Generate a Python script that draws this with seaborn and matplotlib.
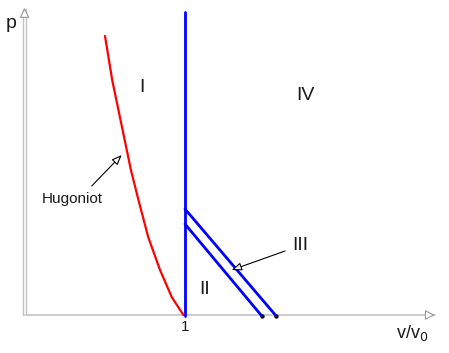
import matplotlib
matplotlib.use("Agg")
import matplotlib.pyplot as plt
import seaborn as sns
import numpy as np
import pandas as pd

sns.set_theme(style="white")
plt.rcParams['font.family'] = ['Liberation Sans', 'DejaVu Sans']

# Data (v/v0, p)
hug_x = [0.50, 0.545, 0.610, 0.662, 0.714, 0.770, 0.844, 0.917, 0.990]
hug_p = [2.80, 2.36, 1.86, 1.46, 1.13, 0.79, 0.46, 0.19, 0.01]
vert_x = [1.0, 1.0]
vert_p = [3.04, 0.0]
upper_x = [1.0, 1.57]
upper_p = [1.07, 0.0]
lower_x = [1.0, 1.48]
lower_p = [0.92, 0.0]
region_labels = ["I", "II", "III", "IV"]

fig = plt.figure(figsize=(4.49, 3.53), dpi=100)
ax = fig.add_axes([0, 0, 1, 1])
ax.set_xlim(-25/160, (449-25)/160)
ax.set_ylim((316-353)/100, 316/100)
ax.axis('off')

def X(px):
    return (px - 25) / 160

def P(py):
    return (316 - py) / 100

gray = '#c4c4c4'
# axes lines
ax.plot([-0.011, -0.011], [0.01, 3.07], color=gray, lw=1.0)
ax.plot([0.006, 0.006], [0.03, 3.07], color=gray, lw=1.0)
ax.plot([0.0, 2.56], [0.01, 0.01], color=gray, lw=1.2)
ax.annotate("", xy=(-0.0025, 3.11), xytext=(-0.0025, 3.0),
            arrowprops=dict(arrowstyle='-|>,head_length=0.5,head_width=0.25', fc='white', ec='#999999', lw=0.8))
ax.annotate("", xy=(2.58, 0.01), xytext=(2.50, 0.01),
            arrowprops=dict(arrowstyle='-|>,head_length=0.5,head_width=0.25', fc='white', ec='#999999', lw=0.8))

df_h = pd.DataFrame({"x": hug_x, "p": hug_p})
sns.lineplot(data=df_h, x="x", y="p", ax=ax, color='#ff0000', lw=1.6, sort=False, estimator=None,
             solid_joinstyle='round')
for xs, ps in [(vert_x, vert_p), (upper_x, upper_p), (lower_x, lower_p)]:
    d = pd.DataFrame({"x": xs, "p": ps})
    sns.lineplot(data=d, x="x", y="p", ax=ax, color='#0000ff', lw=2.0, sort=False, estimator=None)
ax.plot([upper_x[1], lower_x[1]], [0.0, 0.0], 'o', color='#101040', ms=2.2, zorder=5)

# labels
tc = '#1a1a1a'
ax.text(X(142), P(87), region_labels[0], fontsize=14, color=tc, ha='center', va='center')
ax.text(X(205), P(289), region_labels[1], fontsize=14, color=tc, ha='center', va='center')
ax.text(X(300), P(245), region_labels[2], fontsize=14, color=tc, ha='center', va='center')
ax.text(X(305), P(95), region_labels[3], fontsize=14, color=tc, ha='center', va='center')
ax.text(X(11), P(24), "p", fontsize=14, color=tc, ha='center', va='center')
ax.text(X(185), P(327), "1", fontsize=11, color=tc, ha='center', va='center')
ax.text(X(412), P(333), r"v/v$_0$", fontsize=13, color=tc, ha='center', va='center')
ax.text(X(72), P(199), "Hugoniot", fontsize=11, color=tc, ha='center', va='center')

ap = dict(arrowstyle='-|>,head_length=0.5,head_width=0.2', fc='white', ec='black', lw=0.8,
          shrinkA=0, shrinkB=0)
ax.annotate("", xy=(X(121.7), P(155)), xytext=(X(91.7), P(186)), arrowprops=ap)
ax.annotate("", xy=(X(231.7), P(270)), xytext=(X(285), P(251)), arrowprops=ap)

fig.savefig("out.png", dpi=100)
